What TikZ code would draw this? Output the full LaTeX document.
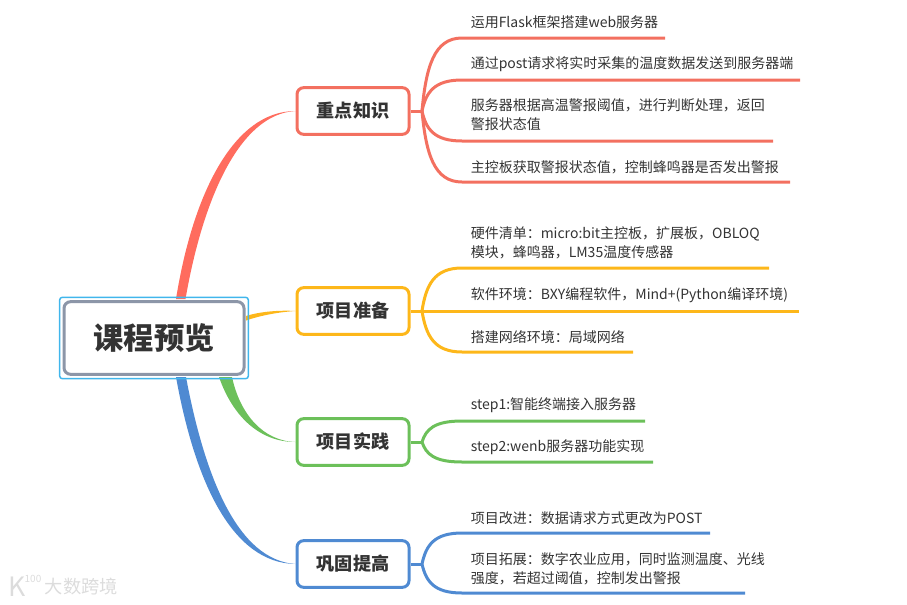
\documentclass[tikz,border=0pt]{standalone}
\usepackage{fontspec}
\setmainfont{Noto Sans CJK SC}
\usetikzlibrary{calc,backgrounds}
\definecolor{ink}{RGB}{51,51,51}
\definecolor{cRed}{RGB}{243,112,96}
\definecolor{cBough}{RGB}{255,108,94}
\definecolor{cOrange}{RGB}{253,183,26}
\definecolor{cGreen}{RGB}{108,192,90}
\definecolor{cBlue}{RGB}{79,138,210}
\definecolor{cFrame}{RGB}{140,150,168}
\definecolor{cSel}{RGB}{64,182,236}
\definecolor{cMark}{RGB}{220,220,220}
\newcommand{\limb}[3]{\draw[#1, line width=2.25pt] let \p1=(#2.center), \p2=(#3) in
  (#2.center) .. controls (\x1+3pt, {\y1+0.6*(\y2-\y1)}) and (\x2-21pt, \y2) .. (#3) -- (#3r);}
\begin{document}
\begin{tikzpicture}[x=0.75pt, y=-0.75pt, font=\fontsize{10.5}{14.25}\selectfont\color{ink},
      topic/.style={rectangle, rounded corners=5pt, line width=2.25pt, fill=white, inner sep=0pt,
                    minimum width=84pt, minimum height=35pt, font=\fontsize{13.6}{16}\selectfont\bfseries\color{ink}},
      leaf/.style={anchor=west, align=left, inner sep=0pt},
      hub/.style={circle, inner sep=0pt, minimum size=0pt}]
    \useasboundingbox (0,0) rectangle (907,604);
    \node[draw=cSel, line width=1.1pt, rounded corners=2pt, minimum width=141.5pt, minimum height=61pt, inner sep=0pt] (sel) at (154,338) {};
    \node[draw=cFrame, line width=2.25pt, rounded corners=5pt, fill=white, minimum width=135pt, minimum height=54.5pt, inner sep=0pt,
          font=\fontsize{22.7}{26}\selectfont\bfseries\color{ink}] (root) at (154,338) {课程预览};

    \node[topic, draw=cRed] (t1) at (353,111) {重点知识};
    \node[topic, draw=cOrange] (t2) at (353,311) {项目准备};
    \node[topic, draw=cGreen] (t3) at (353,442) {项目实践};
    \node[topic, draw=cBlue] (t4) at (353,564) {巩固提高};

    \coordinate (r1a) at (176,299);
    \coordinate (r1b) at (185.5,299);
    \coordinate (r2a) at (246,316);
    \coordinate (r2b) at (246,320.5);
    \coordinate (r3a) at (219,377);
    \coordinate (r3b) at (232,377);
    \coordinate (r4a) at (176,377);
    \coordinate (r4b) at (186,377);
    \begin{scope}[on background layer]
    \fill[cBough] (r1a) .. controls (193,193) and (234,111) .. (t1.west) .. controls (240,114) and (203,198) .. (r1b) -- cycle;
    \fill[cOrange] (r2a) .. controls (260,311.5) and (280,310) .. (t2.west) .. controls (280,312) and (262,315) .. (r2b) -- cycle;
    \fill[cGreen] (r3a) .. controls (233,417) and (260,442) .. (t3.west) .. controls (263,441) and (240,414) .. (r3b) -- cycle;
    \fill[cBlue] (r4a) .. controls (195,482) and (232,563) .. (t4.west) .. controls (238,560) and (205,478) .. (r4b) -- cycle;
    \end{scope}

    \node[hub] (h1) at (422,111) {};
    \node[hub] (h2) at (422,311) {};
    \node[hub] (h3) at (422,442) {};
    \node[hub] (h4) at (422,564) {};
    \draw[cRed, line width=2.25pt] (t1.east) -- (h1.center);
    \draw[cOrange, line width=2.25pt] (t2.east) -- (h2.center);
    \draw[cGreen, line width=2.25pt] (t3.east) -- (h3.center);
    \draw[cBlue, line width=2.25pt] (t4.east) -- (h4.center);

    \node[leaf] (a1) at (470.5,22) {运用Flask框架搭建web服务器};
    \node[leaf] (a2) at (470.5,64) {通过post请求将实时采集的温度数据发送到服务器端};
    \node[leaf] (a3) at (470.5,115) {服务器根据高温警报阈值，进行判断处理，返回\\警报状态值};
    \node[leaf] (a4) at (470.5,167) {主控板获取警报状态值，控制蜂鸣器是否发出警报};
    \node[leaf] (b1) at (470.5,243) {硬件清单：micro:bit主控板，扩展板，OBLOQ\\模块，蜂鸣器，LM35温度传感器};
    \node[leaf] (b2) at (470.5,295) {软件环境：BXY编程软件，Mind+(Python编译环境)};
    \node[leaf] (b3) at (470.5,337) {搭建网络环境：局域网络};
    \node[leaf] (c1) at (470.5,405) {step1:智能终端接入服务器};
    \node[leaf] (c2) at (470.5,447) {step2:wenb服务器功能实现};
    \node[leaf] (d1) at (470.5,518) {项目改进：数据请求方式更改为POST};
    \node[leaf] (d2) at (470.5,569) {项目拓展：数字农业应用，同时监测温度、光线\\强度，若超过阈值，控制发出警报};

    \coordinate (u1) at (462,38);   \coordinate (u1r) at (665,38);
    \coordinate (u2) at (462,80);   \coordinate (u2r) at (800,80);
    \coordinate (u3) at (462,141);  \coordinate (u3r) at (773,141);
    \coordinate (u4) at (462,182);  \coordinate (u4r) at (790,182);
    \coordinate (v1) at (462,268);  \coordinate (v1r) at (769,268);
    \coordinate (v2) at (462,311);  \coordinate (v2r) at (799,311);
    \coordinate (v3) at (462,352);  \coordinate (v3r) at (633,352);
    \coordinate (w1) at (462,421);  \coordinate (w1r) at (645,421);
    \coordinate (w2) at (462,462);  \coordinate (w2r) at (653,462);
    \coordinate (z1) at (462,533);  \coordinate (z1r) at (710,533);
    \coordinate (z2) at (462,593);  \coordinate (z2r) at (745,593);

    \limb{cRed}{h1}{u1}
    \limb{cRed}{h1}{u2}
    \limb{cRed}{h1}{u3}
    \limb{cRed}{h1}{u4}
    \limb{cOrange}{h2}{v1}
    \limb{cOrange}{h2}{v2}
    \limb{cOrange}{h2}{v3}
    \limb{cGreen}{h3}{w1}
    \limb{cGreen}{h3}{w2}
    \limb{cBlue}{h4}{z1}
    \limb{cBlue}{h4}{z2}

    \node[font=\fontsize{13.7}{16}\selectfont\color{cMark}, inner sep=0pt] (mark) at (81.5,587) {大数跨境};
    \node[font=\fontsize{20}{22}\selectfont\color{cMark}, inner sep=0pt] (logo) at (17,587) {K};
    \node[font=\fontsize{7.5}{8}\selectfont\color{cMark}, inner sep=0pt] (logotop) at (33,579) {100};
  \end{tikzpicture}
\end{document}
